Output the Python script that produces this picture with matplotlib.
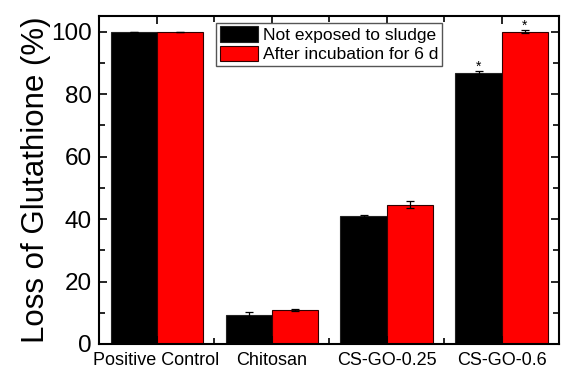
import numpy as np
import matplotlib
matplotlib.use("Agg")
import matplotlib.pyplot as plt
from matplotlib.ticker import MultipleLocator

plt.rcParams['font.family'] = ['Liberation Sans', 'DejaVu Sans']

# Data
categories = ["Positive Control", "Chitosan", "CS-GO-0.25", "CS-GO-0.6"]
not_exposed = [100.0, 9.2, 40.9, 86.8]
not_exposed_err = [0.0, 0.9, 0.5, 0.5]
after_incub = [100.0, 10.9, 44.6, 100.0]
after_incub_err = [0.0, 0.4, 1.2, 0.4]
stars = [False, False, False, True]
series_labels = ["Not exposed to sludge", "After incubation for 6 d"]

fig = plt.figure(figsize=(5.62, 3.69), dpi=100)
ax = fig.add_axes([99/562, 1 - 344/369, 460/562, 328/369])

x = np.arange(1, len(categories) + 1)
w = 0.4
err_kw = dict(ecolor='black', capsize=3, elinewidth=0.9, capthick=0.9)
ax.bar(x - w/2, not_exposed, w, yerr=not_exposed_err, color='black',
       edgecolor='#222222', linewidth=0.8, label=series_labels[0], error_kw=err_kw)
ax.bar(x + w/2, after_incub, w, yerr=after_incub_err, color='#ff0000',
       edgecolor='#300000', linewidth=0.8, label=series_labels[1], error_kw=err_kw)

# significance marks
for i, s in enumerate(stars):
    if s:
        ax.text(x[i] - w/2, not_exposed[i] + not_exposed_err[i] + 0.3, "*",
                ha='center', va='baseline', fontsize=10)
        ax.text(x[i] + w/2, after_incub[i] + after_incub_err[i] + 0.3, "*",
                ha='center', va='baseline', fontsize=10)

ax.set_xlim(0.5, 4.5)
ax.set_ylim(0, 105)
ax.set_xticks(x)
ax.set_xticklabels(categories, fontsize=13)
ax.set_xticks(x + 0.5, minor=True)
ax.yaxis.set_major_locator(MultipleLocator(20))
ax.yaxis.set_minor_locator(MultipleLocator(10))
ax.tick_params(axis='y', labelsize=17.5, pad=5)
ax.tick_params(which='both', direction='in', top=True, right=True, width=1.2)
ax.tick_params(which='major', length=6)
ax.tick_params(which='minor', length=4)
ax.tick_params(axis='x', pad=6)
ax.set_ylabel("Loss of Glutathione (%)", fontsize=22.5, labelpad=0)
for sp in ax.spines.values():
    sp.set_linewidth(1.5)

leg = ax.legend(loc='upper center', bbox_to_anchor=(0.5, 0.99), fontsize=12.5,
                fancybox=False, framealpha=1, edgecolor='#555555',
                handlelength=2.2, handleheight=1.0, borderpad=0.2,
                labelspacing=0.15, handletextpad=0.3, borderaxespad=0.2)
leg.get_frame().set_linewidth(1.0)

fig.savefig("out.png", dpi=100)
